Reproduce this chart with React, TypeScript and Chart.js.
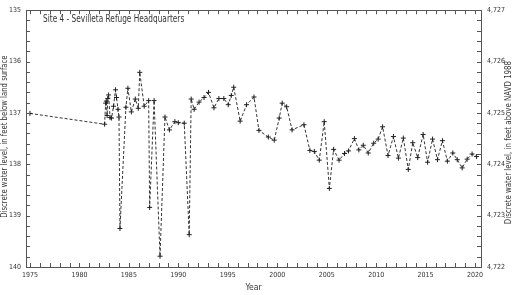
import React, { useEffect, useRef } from "react";
import { Chart, registerables } from "chart.js";

Chart.register(...registerables);

const years: number[] = [
  1975.0, 1982.55, 1982.65, 1982.72, 1982.8, 1982.87, 1982.95, 1983.1, 1983.25, 1983.45,
  1983.65, 1983.75, 1983.9, 1984.0, 1984.1, 1984.7, 1984.9, 1985.25, 1985.65, 1985.95,
  1986.1, 1986.55, 1987.0, 1987.1, 1987.55, 1988.15, 1988.65, 1989.1, 1989.65, 1990.0,
  1990.6, 1991.1, 1991.3, 1991.6, 1992.1, 1992.6, 1993.05, 1993.6, 1994.1, 1994.6,
  1995.05, 1995.35, 1995.6, 1996.25, 1996.9, 1997.65, 1998.15, 1999.1, 1999.7, 2000.2,
  2000.5, 2000.95, 2001.5, 2002.7, 2003.3, 2003.75, 2004.25, 2004.75, 2005.27, 2005.7,
  2006.25, 2006.8, 2007.2, 2007.8, 2008.25, 2008.7, 2009.2, 2009.75, 2010.2, 2010.65,
  2011.2, 2011.75, 2012.25, 2012.75, 2013.25, 2013.7, 2014.2, 2014.75, 2015.2, 2015.7,
  2016.2, 2016.7, 2017.2, 2017.75, 2018.2, 2018.7, 2019.2, 2019.7, 2020.15,
];

const depthBelowSurface: number[] = [
  137.01, 137.22, 136.81, 136.77, 137.05, 136.72, 136.65, 137.09, 137.1, 136.87,
  136.55, 136.7, 136.93, 137.08, 139.25, 136.89, 136.52, 136.98, 136.73, 136.91,
  136.21, 136.87, 136.76, 138.84, 136.76, 139.79, 137.08, 137.33, 137.17, 137.19,
  137.2, 139.37, 136.73, 136.93, 136.79, 136.7, 136.6, 136.9, 136.72, 136.72,
  136.84, 136.66, 136.5, 137.16, 136.84, 136.69, 137.34, 137.47, 137.53, 137.1,
  136.81, 136.88, 137.33, 137.23, 137.73, 137.75, 137.92, 137.17, 138.47, 137.71,
  137.92, 137.79, 137.74, 137.5, 137.72, 137.63, 137.78, 137.59, 137.51, 137.27,
  137.83, 137.46, 137.88, 137.49, 138.1, 137.58, 137.87, 137.42, 137.96, 137.51,
  137.91, 137.54, 137.94, 137.78, 137.91, 138.07, 137.9, 137.8, 137.85,
];

const xTickYears: number[] = [1975, 1980, 1985, 1990, 1995, 2000, 2005, 2010, 2015, 2020];
const leftTicks: number[] = [135, 136, 137, 138, 139, 140];
const rightTicks: number[] = [4722, 4723, 4724, 4725, 4726, 4727];

const chartTitle = "Site 4 - Sevilleta Refuge Headquarters";
const leftAxisTitle = "Discrete water level, in feet below land surface";
const rightAxisTitle = "Discrete water level, in feet above NAVD 1988";
const xAxisTitle = "Year";

const FONT = "'Liberation Sans Narrow', 'DejaVu Sans Condensed', 'Liberation Sans', sans-serif";
const AXIS_COLOR = "#555";
const TEXT_COLOR = "#333";

const inwardTicks = {
  id: "inwardTicks",
  afterDraw(chart: any) {
    const { ctx, chartArea } = chart;
    const x = chart.scales.x;
    const y = chart.scales.y;
    ctx.save();
    ctx.strokeStyle = AXIS_COLOR;
    ctx.lineWidth = 1;
    ctx.beginPath();
    for (let yr = 1975; yr <= 2020; yr++) {
      const px = Math.round(x.getPixelForValue(yr)) + 0.5;
      ctx.moveTo(px, chartArea.bottom);
      ctx.lineTo(px, chartArea.bottom - 4);
      ctx.moveTo(px, chartArea.top);
      ctx.lineTo(px, chartArea.top + 4);
    }
    for (let i = 0; i <= 25; i++) {
      const v = 135 + i * 0.2;
      const py = Math.round(y.getPixelForValue(v)) + 0.5;
      ctx.moveTo(chartArea.left, py);
      ctx.lineTo(chartArea.left + 4, py);
      ctx.moveTo(chartArea.right, py);
      ctx.lineTo(chartArea.right - 4, py);
    }
    ctx.stroke();

    ctx.strokeRect(
      Math.round(chartArea.left) + 0.5,
      Math.round(chartArea.top) + 0.5,
      Math.round(chartArea.right - chartArea.left),
      Math.round(chartArea.bottom - chartArea.top)
    );

    ctx.fillStyle = TEXT_COLOR;
    ctx.textBaseline = "middle";

    ctx.save();
    ctx.font = `10px ${FONT}`;
    ctx.textAlign = "left";
    ctx.translate(chartArea.left + 17, 19);
    ctx.scale(0.82, 1);
    ctx.fillText(chartTitle, 0, 0);
    ctx.restore();

    ctx.font = `8.5px ${FONT}`;
    ctx.textAlign = "center";
    ctx.fillText(xAxisTitle, (chartArea.left + chartArea.right) / 2, 288);

    const midY = (chartArea.top + chartArea.bottom) / 2;
    ctx.save();
    ctx.translate(5, midY - 2);
    ctx.rotate(-Math.PI / 2);
    ctx.scale(0.9, 1);
    ctx.fillText(leftAxisTitle, 0, 0);
    ctx.restore();

    ctx.save();
    ctx.translate(509, midY + 4);
    ctx.rotate(-Math.PI / 2);
    ctx.scale(0.92, 1);
    ctx.fillText(rightAxisTitle, 0, 0);
    ctx.restore();

    ctx.restore();
  },
};

export default function App() {
  const ref = useRef<HTMLCanvasElement>(null);

  useEffect(() => {
    if (!ref.current) return;
    const points = years.map((yr, i) => ({ x: yr, y: depthBelowSurface[i] }));
    const chart = new Chart(ref.current, {
      type: "line",
      data: {
        datasets: [
          {
            data: points,
            borderColor: "#333",
            borderWidth: 1,
            borderDash: [3, 2],
            pointStyle: "cross",
            pointRadius: 2.5,
            pointBorderColor: "#222",
            pointBorderWidth: 1,
            pointBackgroundColor: "#222",
            tension: 0,
            fill: false,
          },
        ],
      },
      options: {
        responsive: false,
        animation: false,
        events: [],
        layout: { padding: 0 },
        plugins: {
          legend: { display: false },
          tooltip: { enabled: false },
          title: { display: false },
        },
        scales: {
          x: {
            type: "linear",
            position: "bottom",
            min: 1974.6,
            max: 2020.6,
            afterBuildTicks: (s: any) => {
              s.ticks = xTickYears.map((v) => ({ value: v }));
            },
            afterFit: (s: any) => {
              s.height = 28;
            },
            grid: { display: false, drawTicks: false },
            border: { display: false },
            ticks: {
              padding: 4,
              color: TEXT_COLOR,
              font: { family: FONT, size: 7 },
              maxRotation: 0,
              autoSkip: false,
              callback: (v: any) => String(v),
            },
          },
          xTop: {
            type: "linear",
            position: "top",
            min: 1974.6,
            max: 2020.6,
            afterFit: (s: any) => {
              s.height = 4;
            },
            grid: { display: false, drawTicks: false },
            border: { display: false },
            ticks: { display: false },
          },
          y: {
            type: "linear",
            position: "left",
            reverse: true,
            min: 135,
            max: 140,
            afterBuildTicks: (s: any) => {
              s.ticks = leftTicks.map((v) => ({ value: v }));
            },
            afterFit: (s: any) => {
              s.width = 26;
            },
            grid: { display: false, drawTicks: false },
            border: { display: false },
            ticks: {
              padding: 5,
              color: TEXT_COLOR,
              font: { family: FONT, size: 7 },
              autoSkip: false,
              callback: (v: any) => String(v),
            },
          },
          y2: {
            type: "linear",
            position: "right",
            min: 4722,
            max: 4727,
            afterBuildTicks: (s: any) => {
              s.ticks = rightTicks.map((v) => ({ value: v }));
            },
            afterFit: (s: any) => {
              s.width = 33;
            },
            grid: { display: false, drawTicks: false },
            border: { display: false },
            ticks: {
              padding: 6,
              color: TEXT_COLOR,
              font: { family: FONT, size: 7 },
              autoSkip: false,
              callback: (v: any) => Number(v).toLocaleString("en-US"),
            },
          },
        },
      },
      plugins: [inwardTicks],
    });
    return () => chart.destroy();
  }, []);

  return (
    <div style={{ position: "fixed", left: 0, top: 0, width: 514, height: 295, background: "#fff" }}>
      <canvas ref={ref} width={514} height={295} style={{ width: 514, height: 295, display: "block" }} />
    </div>
  );
}
